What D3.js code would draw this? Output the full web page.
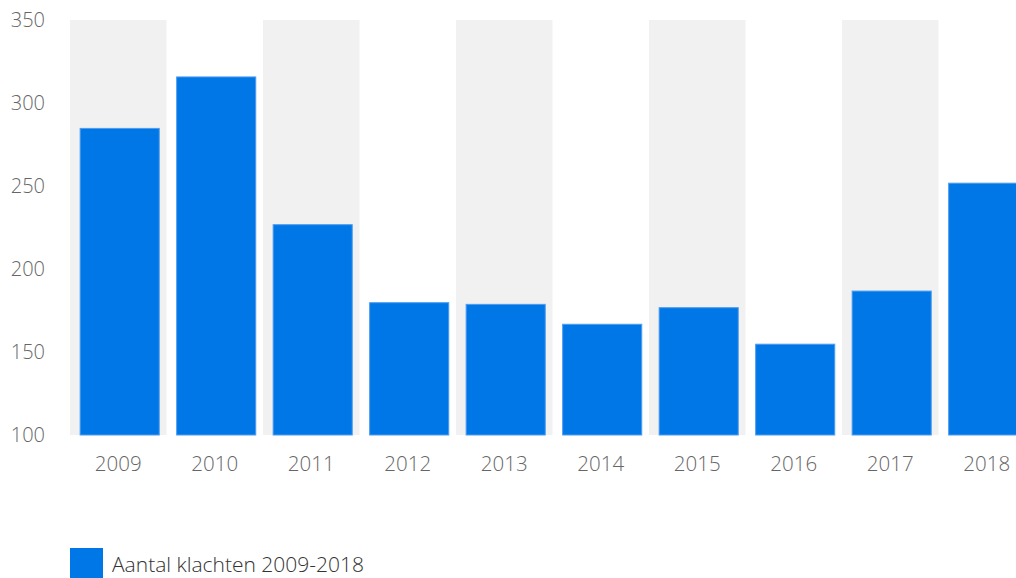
<!DOCTYPE html>
<html>
<head>
<meta charset="utf-8">
<script src="https://cdn.jsdelivr.net/npm/d3@7/dist/d3.min.js"></script>
<style>
  html, body { margin: 0; padding: 0; background: #fff; overflow: hidden; }
  svg { display: block; font-family: "Open Sans", "Noto Sans", sans-serif; }
</style>
</head>
<body>
<svg id="chart" width="1016" height="578"></svg>
<script>
// Number of complaints per year
const years = ["2009", "2010", "2011", "2012", "2013", "2014", "2015", "2016", "2017", "2018"];
const complaints = [285, 316, 227, 180, 179, 167, 177, 155, 187, 252];
const yTicks = [100, 150, 200, 250, 300, 350];
const seriesName = "Aantal klachten 2009-2018";

const svg = d3.select("#chart");

const x = d3.scaleBand().domain(years).range([70, 1035]).padding(0);
const y = d3.scaleLinear().domain([100, 350]).range([435, 20]);

// alternating background stripes
svg.append("g")
  .selectAll("rect")
  .data(years.filter((d, i) => i % 2 === 0))
  .join("rect")
  .attr("x", d => x(d))
  .attr("y", y(350))
  .attr("width", x.bandwidth())
  .attr("height", y(100) - y(350))
  .attr("fill", "#f1f1f1");

// bars
const bw = x.bandwidth();
svg.append("g")
  .selectAll("rect")
  .data(years.map((yr, i) => ({ yr, v: complaints[i] })))
  .join("rect")
  .attr("x", d => x(d.yr) + bw * 0.1 + 0.5)
  .attr("y", d => y(d.v) + 0.5)
  .attr("width", bw * 0.83 - 1)
  .attr("height", d => y(100) - y(d.v) - 0.5)
  .attr("fill", "#0077e6")
  .attr("stroke", "#4d9cf0")
  .attr("stroke-width", 1);

// y axis
const yAxis = d3.axisLeft(y).tickValues(yTicks).tickSize(0).tickPadding(0);
const gy = svg.append("g").attr("transform", "translate(45,0)").call(yAxis);
gy.select(".domain").remove();
gy.selectAll("text")
  .attr("font-size", 20)
  .attr("font-weight", 300)
  .attr("fill", "#666")
  .attr("dy", "0.32em")
  .style("font-family", "'Open Sans', sans-serif");

// x axis
const xAxis = d3.axisBottom(x).tickSize(0).tickPadding(0);
const gx = svg.append("g").attr("transform", "translate(0,471)").call(xAxis);
gx.select(".domain").remove();
gx.selectAll("text")
  .attr("font-size", 20.5)
  .attr("font-weight", 300)
  .attr("fill", "#666")
  .attr("dy", 0)
  .attr("y", 0)
  .style("font-family", "'Open Sans', sans-serif");

// legend
const legend = svg.append("g").attr("transform", "translate(70,548)");
legend.append("rect")
  .attr("width", 33).attr("height", 31)
  .attr("fill", "#0077e6");
legend.append("text")
  .attr("x", 42).attr("y", 24)
  .attr("font-size", 21)
  .attr("font-weight", 300)
  .attr("fill", "#333")
  .text(seriesName);
</script>
</body>
</html>
